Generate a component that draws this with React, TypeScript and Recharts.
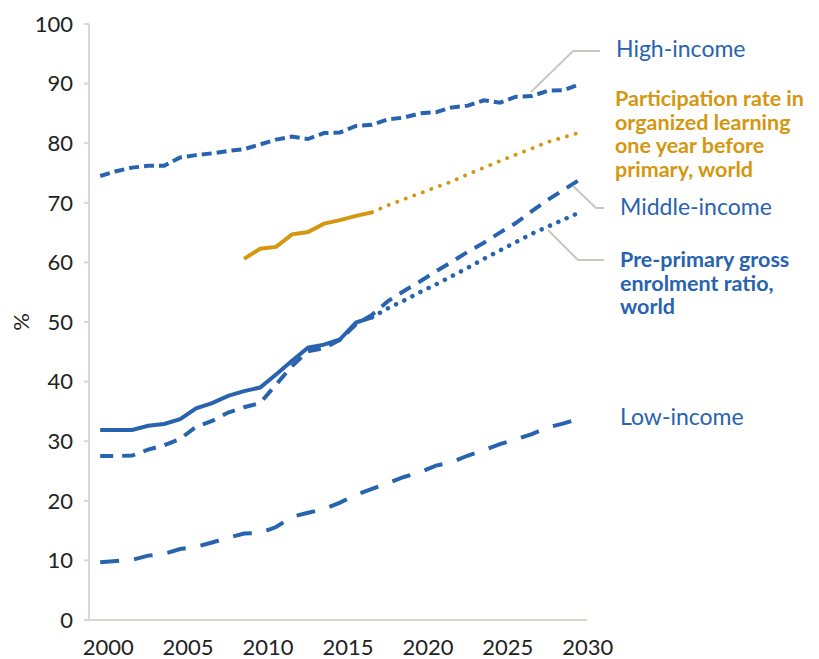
import React from "react";
import { LineChart, Line, XAxis, YAxis } from "recharts";

const years = [
  2000, 2001, 2002, 2003, 2004, 2005, 2006, 2007, 2008, 2009, 2010,
  2011, 2012, 2013, 2014, 2015, 2016, 2017, 2018, 2019, 2020,
  2021, 2022, 2023, 2024, 2025, 2026, 2027, 2028, 2029, 2030,
];

const highIncome = [
  74.5, 75.3, 75.9, 76.2, 76.2, 77.6, 78.0, 78.3, 78.7, 79.0, 79.8,
  80.6, 81.1, 80.7, 81.7, 81.8, 82.9, 83.1, 84.0, 84.3, 85.0,
  85.2, 86.0, 86.3, 87.2, 86.8, 87.8, 87.9, 88.8, 88.9, 89.9,
];

const middleIncome = [
  27.5, 27.5, 27.6, 28.6, 29.3, 30.4, 32.4, 33.4, 34.8, 35.7, 36.4,
  39.5, 42.6, 45.1, 45.6, 47.0, 49.6, 51.2, 53.5, 55.2, 56.8,
  58.5, 60.1, 61.8, 63.3, 65.0, 66.6, 68.6, 70.5, 72.2, 73.9,
];

const lowIncome = [
  9.7, 9.9, 10.1, 10.8, 11.1, 11.9, 12.3, 13.0, 13.8, 14.5, 14.6,
  15.6, 17.3, 18.0, 18.6, 19.7, 21.0, 22.0, 23.0, 24.0, 24.8,
  25.9, 26.5, 27.6, 28.5, 29.5, 30.3, 31.2, 32.3, 33.0, 33.8,
];

// Pre-primary gross enrolment ratio, world: observed 2000-2017
const preprimaryObserved = [
  31.9, 31.9, 31.9, 32.6, 32.9, 33.7, 35.5, 36.4, 37.6, 38.4, 39.0,
  41.2, 43.5, 45.7, 46.2, 47.1, 49.9, 50.8,
];
// projection 2017-2030
const preprimaryProjected = [
  50.8, 52.3, 53.6, 55.0, 56.3, 57.7, 59.1, 60.6, 62.0, 63.4, 64.8, 66.0, 67.2, 68.4,
];

// Participation rate one year before primary, world: observed 2009-2017
const participationYears = [2009, 2010, 2011, 2012, 2013, 2014, 2015, 2016, 2017];
const participationObserved = [60.6, 62.3, 62.6, 64.7, 65.1, 66.5, 67.1, 67.8, 68.4];
// projection 2017-2030
const participationProjected = [
  68.4, 69.6, 70.6, 71.6, 72.6, 73.6, 74.8, 75.9, 77.0, 78.1, 79.1, 80.2, 81.0, 81.8,
];

const xTicks = [2000, 2005, 2010, 2015, 2020, 2025, 2030];
const yTicks = [0, 10, 20, 30, 40, 50, 60, 70, 80, 90, 100];

const goldLabel = ["Participation rate in", "organized learning", "one year before", "primary, world"];
const preLabel = ["Pre-primary gross", "enrolment ratio,", "world"];

const projectionStart = 2017;

const data = years.map((year, i) => {
  const pi = participationYears.indexOf(year);
  return {
    year,
    high: highIncome[i],
    middle: middleIncome[i],
    low: lowIncome[i],
    pre: year <= projectionStart ? preprimaryObserved[i] : null,
    preProj: year >= projectionStart ? preprimaryProjected[year - projectionStart] : null,
    part: pi >= 0 ? participationObserved[pi] : null,
    partProj: year >= projectionStart ? participationProjected[year - projectionStart] : null,
  };
});

const BLUE = "#2863AF";
const GOLD = "#D4970F";
const AXIS = "#DAD7D0";
const LEADER = "#C9C7C0";
const FONT = "Lato, 'Open Sans', sans-serif";

const XTick = (props: any) => {
  const { x, payload } = props;
  return (
    <text x={x + 8} y={655} textAnchor="middle" fontSize={22} fontFamily={FONT} fill="#222">
      {payload.value}
    </text>
  );
};

export default function App() {
  return (
    <div style={{ position: "absolute", left: 0, top: 0, width: 819, height: 659, background: "#fff" }}>
      <LineChart
        width={819}
        height={659}
        data={data}
        margin={{ top: 24, right: 232, bottom: 0, left: 29 }}
      >
        <XAxis
          type="number"
          dataKey="year"
          domain={[1999.3, 2030.45]}
          ticks={xTicks}
          allowDataOverflow
          tickLine={false}
          axisLine={{ stroke: AXIS, strokeWidth: 2 }}
          tick={<XTick />}
          height={39}
          interval={0}
        />
        <YAxis
          type="number"
          domain={[0, 100]}
          ticks={yTicks}
          width={60}
          tickSize={5}
          tickMargin={11}
          interval={0}
          tickLine={{ stroke: AXIS, strokeWidth: 2 }}
          axisLine={{ stroke: AXIS, strokeWidth: 2 }}
          tick={{ fontSize: 22, fontFamily: FONT, fill: "#222" }}
        />
        <Line type="linear" dataKey="low" stroke={BLUE} strokeWidth={4} strokeDasharray="19 15" dot={false} isAnimationActive={false} />
        <Line type="linear" dataKey="high" stroke={BLUE} strokeWidth={4} strokeDasharray="10 5" dot={false} isAnimationActive={false} />
        <Line type="linear" dataKey="middle" stroke={BLUE} strokeWidth={4} strokeDasharray="13 9" dot={false} isAnimationActive={false} />
        <Line type="linear" dataKey="preProj" stroke={BLUE} strokeWidth={4.5} strokeDasharray="0.1 9" strokeLinecap="round" dot={false} isAnimationActive={false} />
        <Line type="linear" dataKey="pre" stroke={BLUE} strokeWidth={4} dot={false} isAnimationActive={false} />
        <Line type="linear" dataKey="partProj" stroke={GOLD} strokeWidth={3.8} strokeDasharray="0.1 9" strokeLinecap="round" dot={false} isAnimationActive={false} />
        <Line type="linear" dataKey="part" stroke={GOLD} strokeWidth={4} dot={false} isAnimationActive={false} />
      </LineChart>
      <svg
        width={819}
        height={659}
        style={{ position: "absolute", left: 0, top: 0, pointerEvents: "none" }}
        fontFamily={FONT}
      >
        <text x={0} y={0} transform="translate(29 322) rotate(-90)" textAnchor="middle" fontSize={22} fill="#222">
          %
        </text>
        <polyline points="531,92 573,51 600,51" fill="none" stroke={LEADER} strokeWidth={2} />
        <polyline points="573,186 596,208 604,208" fill="none" stroke={LEADER} strokeWidth={2} />
        <polyline points="548,230 578,260 604,260" fill="none" stroke={LEADER} strokeWidth={2} />
        <text x={616} y={57} fontSize={23} fill={BLUE}>High-income</text>
        {goldLabel.map((line, i) => (
          <text key={line} x={615} y={106 + i * 23.5} fontSize={21.5} fontWeight="bold" fill={GOLD}>
            {line}
          </text>
        ))}
        <text x={620} y={215} fontSize={23} fill={BLUE}>Middle-income</text>
        {preLabel.map((line, i) => (
          <text key={line} x={620} y={267 + i * 23.5} fontSize={21.5} fontWeight="bold" fill={BLUE}>
            {line}
          </text>
        ))}
        <text x={620} y={425} fontSize={23} fill={BLUE}>Low-income</text>
      </svg>
    </div>
  );
}
